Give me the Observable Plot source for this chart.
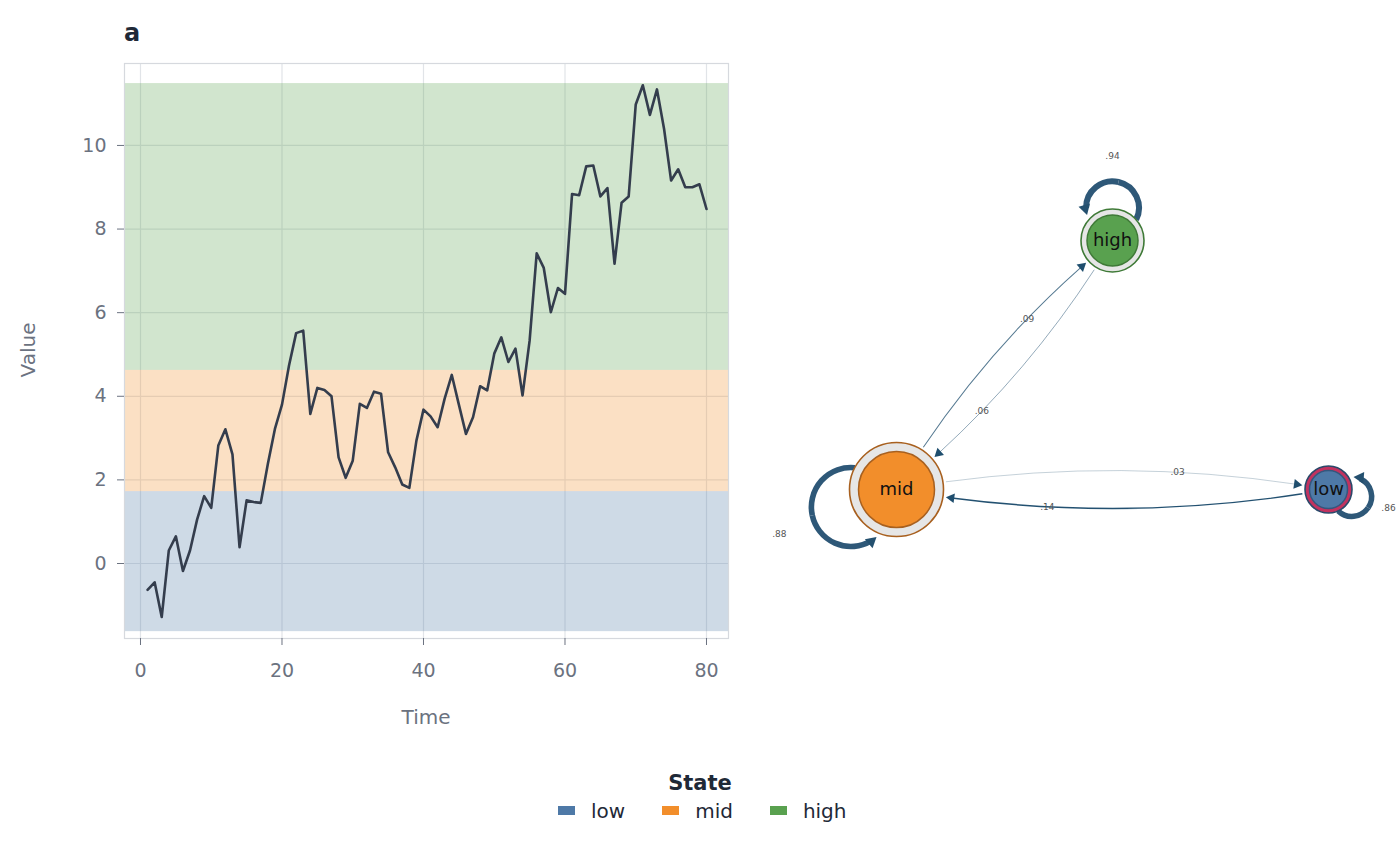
<!DOCTYPE html>
<html>
<head>
<meta charset="utf-8">
<script src="https://cdn.jsdelivr.net/npm/d3@7"></script>
<script src="https://cdn.jsdelivr.net/npm/@observablehq/plot@0.6"></script>
<style>
  body { margin: 0; background: #fff; font-family: "DejaVu Sans", sans-serif; }
  #wrap { position: relative; width: 1400px; height: 866px; overflow: hidden; background: #fff; }
  #left { position: absolute; left: 0; top: 0; width: 745px; }
  #right { position: absolute; left: 740px; top: 0; width: 660px; }
  #title { position: absolute; left: 124px; top: 21px; font: bold 24px/24px "DejaVu Sans", sans-serif; color: #1f2937; }
  #ylab { position: absolute; left: 28px; top: 350px; transform: translate(-50%, -50%) rotate(-90deg); font: 20px/20px "DejaVu Sans", sans-serif; color: #6b7280; white-space: nowrap; }
  #xlab { position: absolute; left: 426px; top: 707px; transform: translateX(-50%); font: 20px/20px "DejaVu Sans", sans-serif; color: #6b7280; }
  #legtitle { position: absolute; left: 700px; top: 773px; transform: translateX(-50%); font: bold 21px/21px "DejaVu Sans", sans-serif; color: #1f2937; }
  #legend { position: absolute; left: 558px; top: 794px; width: 400px; }
  #legend * { font-family: "DejaVu Sans", sans-serif !important; font-size: 20px !important; color: #1f2937 !important; }
  #legend svg { margin-right: 16px !important; }
  #legend span { margin-right: 37px !important; }
</style>
</head>
<body>
<div id="wrap">
  <div id="left"></div>
  <div id="right"></div>
  <div id="title">a</div>
  <div id="ylab">Value</div>
  <div id="xlab">Time</div>
  <div id="legtitle">State</div>
  <div id="legend"></div>
</div>
<script>
// ---------------- data ----------------
const time = [1,2,3,4,5,6,7,8,9,10,11,12,13,14,15,16,17,18,19,20,
  21,22,23,24,25,26,27,28,29,30,31,32,33,34,35,36,37,38,39,40,
  41,42,43,44,45,46,47,48,49,50,51,52,53,54,55,56,57,58,59,60,
  61,62,63,64,65,66,67,68,69,70,71,72,73,74,75,76,77,78,79,80];
const values = [-0.63,-0.45,-1.28,0.31,0.65,-0.18,0.31,1.05,1.61,1.33,
  2.82,3.21,2.61,0.39,1.51,1.47,1.45,2.38,3.22,3.80,
  4.74,5.51,5.57,3.58,4.20,4.15,4.00,2.54,2.05,2.46,
  3.82,3.72,4.11,4.06,2.66,2.30,1.89,1.81,2.94,3.68,
  3.52,3.26,3.95,4.51,3.80,3.10,3.50,4.24,4.14,5.02,
  5.41,4.82,5.14,4.02,5.33,7.42,7.07,6.01,6.59,6.45,
  8.84,8.81,9.50,9.52,8.78,8.98,7.17,8.63,8.78,10.98,
  11.44,10.73,11.34,10.40,9.16,9.43,9.00,9.00,9.07,8.48];
const states = ["low", "mid", "high"];
const stateColors = ["#4e79a7", "#f28e2b", "#59a14f"];
const bandLow = [-1.63, 1.72, 4.62];
const bandHigh = [1.72, 4.62, 11.48];
const xTicks = [0, 20, 40, 60, 80];
const yTicks = [0, 2, 4, 6, 8, 10];

// network (layout coordinates, self-loop direction, transition probabilities)
const nodeX = [1, -1, 0];
const nodeY = [0, 0, 1.153];
const loopAngle = [-17, 201, 90];
const loopProb = [0.86, 0.88, 0.94];
const edgeFrom = ["mid", "high", "mid", "low"];
const edgeTo = ["high", "mid", "low", "mid"];
const edgeProb = [0.09, 0.06, 0.03, 0.14];

// ---------------- styles ----------------
const FONT = "DejaVu Sans, sans-serif";
const nodeStyle = {
  low:  {outer: 23.5, inner: 19,   ring: "#c2325f", ringStroke: "#2b4a6b", fill: "#4e79a7", stroke: "#34577e"},
  mid:  {outer: 47,   inner: 38,   ring: "#e6e6e6", ringStroke: "#a8601f", fill: "#f28e2b", stroke: "#a8601f"},
  high: {outer: 31.5, inner: 25.5, ring: "#e6e6e6", ringStroke: "#3f7a37", fill: "#59a14f", stroke: "#3f7a37"}
};
const EDGE_COLOR = "#1f4e6e";
const LOOP_COLOR = "#2e5878";
const BEND = 10;
const HEAD_E = 3.6, HEAD_L = 4.4;

// ---------------- left: time series ----------------
const series = time.map((t, i) => ({t, v: values[i]}));
const bands = states.map((s, i) => ({state: s, lo: bandLow[i], hi: bandHigh[i]}));

const left = Plot.plot({
  width: 745, height: 700,
  marginLeft: 124, marginRight: 17, marginTop: 63, marginBottom: 62,
  style: {fontFamily: FONT, fontSize: "19px", color: "#6b7280", background: "transparent", overflow: "visible"},
  x: {domain: [-2.26, 83.11]},
  y: {domain: [-1.794, 11.96]},
  color: {domain: states, range: stateColors},
  marks: [
    Plot.gridX(xTicks, {stroke: "#e1e4e8", strokeOpacity: 1, strokeWidth: 1.2}),
    Plot.gridY(yTicks, {stroke: "#e1e4e8", strokeOpacity: 1, strokeWidth: 1.2}),
    Plot.rect(bands, {y1: "lo", y2: "hi", fill: "state", fillOpacity: 0.28}),
    Plot.line(series, {x: "t", y: "v", stroke: "#343d4d", strokeWidth: 2.6}),
    Plot.frame({stroke: "#d6d9de", strokeWidth: 1.2}),
    Plot.axisX(xTicks, {tickSize: 7, tickPadding: 18, label: null}),
    Plot.axisY(yTicks, {tickSize: 7, tickPadding: 11, label: null})
  ]
});
document.getElementById("left").appendChild(left);

// ---------------- right: transition network ----------------
const PX = 216;
const deg = Math.PI / 180;
const nodes = states.map((s, i) => ({state: s, x: nodeX[i], y: nodeY[i], loopAngle: loopAngle[i], p: loopProb[i]}));
const byState = Object.fromEntries(nodes.map(n => [n.state, n]));
const toPx = (x, y) => [x * PX, -y * PX];
const fromPx = (X, Y) => ({x: X / PX, y: -Y / PX});
const fmt = p => p.toFixed(2).replace(/^0/, "");

const arcs = [];
const heads = [];
const labels = [];

function addHead(tip, tx, ty, r, color) {
  const c = 1.555 * r;
  const p = fromPx(tip[0] - tx * c, tip[1] - ty * c);
  heads.push({...p, rot: Math.atan2(ty, tx) / deg + 90, r, color});
}

function arcGeom(P1, P2, bendDeg) {
  const dx = P2[0] - P1[0], dy = P2[1] - P1[1];
  const L = Math.hypot(dx, dy);
  const a = bendDeg * deg;
  const R = L / (2 * Math.sin(a));
  const ux = dx / L, uy = dy / L;
  const mx = (P1[0] + P2[0]) / 2, my = (P1[1] + P2[1]) / 2;
  const cx = mx - uy * R * Math.cos(a), cy = my + ux * R * Math.cos(a);
  const a1 = Math.atan2(P1[1] - cy, P1[0] - cx);
  let a2 = Math.atan2(P2[1] - cy, P2[0] - cx);
  while (a2 < a1) a2 += 2 * Math.PI;
  return {cx, cy, R, a1, a2};
}

// edges between states
edgeFrom.forEach((f, i) => {
  const t = edgeTo[i], p = edgeProb[i];
  const A = byState[f], B = byState[t];
  const g = arcGeom(toPx(A.x, A.y), toPx(B.x, B.y), BEND);
  const pt = th => [g.cx + g.R * Math.cos(th), g.cy + g.R * Math.sin(th)];
  const th1 = g.a1 + (nodeStyle[f].outer + 3) / g.R;
  const thTip = g.a2 - (nodeStyle[t].outer + 3) / g.R;
  const thEnd = thTip - 1.6 * HEAD_E / g.R;
  const s = fromPx(...pt(th1)), e = fromPx(...pt(thEnd));
  arcs.push({x1: s.x, y1: s.y, x2: e.x, y2: e.y, bend: (thEnd - th1) / 2 / deg,
             w: 0.3 + p * 8, op: Math.min(1, 0.35 + p * 4.5), color: EDGE_COLOR});
  addHead(pt(thTip), -Math.sin(thTip), Math.cos(thTip), HEAD_E, EDGE_COLOR);
  labels.push({...fromPx(...pt(g.a1 + 0.65 * (g.a2 - g.a1))), text: fmt(p)});
});

// self loops
nodes.forEach(n => {
  const N = toPx(n.x, n.y);
  const r = nodeStyle[n.state].outer;
  const d = r * 1.04, rho = r * 0.84;
  const phi = n.loopAngle * deg;
  const ux = Math.cos(phi), uy = -Math.sin(phi);
  const C = [N[0] + ux * d, N[1] + uy * d];
  const aa = (d * d + r * r - rho * rho) / (2 * d);
  const h = Math.sqrt(r * r - aa * aa);
  const th0 = Math.atan2(h, aa - d);
  const psi = Math.atan2(uy, ux);
  const pt = th => [C[0] + rho * Math.cos(th), C[1] + rho * Math.sin(th)];
  const thS = psi + th0;
  const thTip = psi - th0 + 5 / rho;
  const thEnd = thTip + 1.6 * HEAD_L / rho;
  const thM = (thS + thEnd) / 2;
  const half = (thS - thEnd) / 2;
  const s = fromPx(...pt(thS)), m = fromPx(...pt(thM)), e = fromPx(...pt(thEnd));
  const w = n.p * 6.4;
  arcs.push({x1: s.x, y1: s.y, x2: m.x, y2: m.y, bend: -half / 2 / deg, w, op: 1, color: LOOP_COLOR});
  arcs.push({x1: m.x, y1: m.y, x2: e.x, y2: e.y, bend: -half / 2 / deg, w, op: 1, color: LOOP_COLOR});
  addHead(pt(thTip), Math.sin(thTip), -Math.cos(thTip), HEAD_L, "#24506f");
  labels.push({...fromPx(N[0] + ux * r * 2.67, N[1] + uy * r * 2.67), text: fmt(n.p)});
});

const netMarks = [];
arcs.forEach(a => netMarks.push(
  Plot.arrow([a], {x1: "x1", y1: "y1", x2: "x2", y2: "y2", bend: a.bend, headLength: 0,
    stroke: a.color, strokeWidth: a.w, strokeOpacity: a.op, strokeLinecap: "butt"})
));
states.forEach(s => {
  const st = nodeStyle[s];
  const nd = nodes.filter(n => n.state === s);
  netMarks.push(Plot.dot(nd, {x: "x", y: "y", r: st.outer, fill: st.ring, stroke: st.ringStroke, strokeWidth: 1.6}));
  netMarks.push(Plot.dot(nd, {x: "x", y: "y", r: st.inner, fill: st.fill, stroke: st.stroke, strokeWidth: 1.5}));
});
[HEAD_E, HEAD_L].forEach(hr => {
  netMarks.push(Plot.dot(heads.filter(h => h.r === hr), {x: "x", y: "y", r: hr, symbol: "triangle",
    rotate: "rot", fill: "color", stroke: "none"}));
});
netMarks.push(Plot.text(nodes, {x: "x", y: "y", text: "state", fontSize: 18, fill: "#111"}));
netMarks.push(Plot.text(labels, {x: "x", y: "y", text: "text", fontSize: 9, fill: "#555"}));

const right = Plot.plot({
  width: 660, height: 700, margin: 0,
  style: {fontFamily: FONT, background: "transparent", overflow: "visible"},
  x: {domain: [-1, 1], range: [156, 588], axis: null},
  y: {domain: [0, 1.153], range: [489, 240], axis: null},
  color: {type: "identity"},
  marks: netMarks
});
document.getElementById("right").appendChild(right);

// ---------------- legend ----------------
const legend = Plot.legend({
  color: {domain: states, range: stateColors},
  legend: "swatches", swatchWidth: 17, swatchHeight: 9
});
document.getElementById("legend").appendChild(legend);
</script>
</body>
</html>
